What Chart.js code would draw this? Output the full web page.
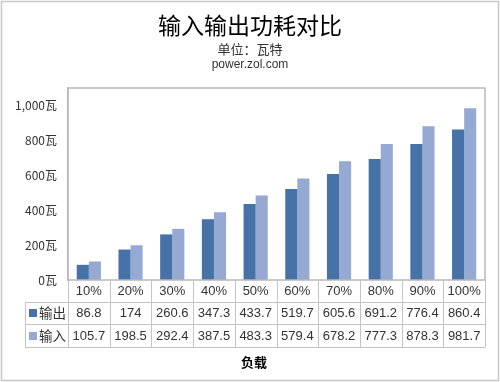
<!DOCTYPE html>
<html>
<head>
<meta charset="utf-8">
<script src="https://cdn.jsdelivr.net/npm/chart.js@4/dist/chart.umd.min.js"></script>
<style>
  html, body { margin: 0; padding: 0; background: #fff; }
  #wrap { width: 500px; height: 382px; }
</style>
</head>
<body>
<div id="wrap"><canvas id="powerChart" width="500" height="382"></canvas></div>
<script>
// data
const loads = ['10%', '20%', '30%', '40%', '50%', '60%', '70%', '80%', '90%', '100%'];
const outputW = [86.8, 174, 260.6, 347.3, 433.7, 519.7, 605.6, 691.2, 776.4, 860.4];
const inputW = [105.7, 198.5, 292.4, 387.5, 483.3, 579.4, 678.2, 777.3, 878.3, 981.7];
const outputLabels = ['86.8', '174', '260.6', '347.3', '433.7', '519.7', '605.6', '691.2', '776.4', '860.4'];
const inputLabels = ['105.7', '198.5', '292.4', '387.5', '483.3', '579.4', '678.2', '777.3', '878.3', '981.7'];

const darkBlue = '#4672a8';
const lightBlue = '#95a9d2';
const lineGray = '#b8b8b8';
const font = '"Noto Sans CJK SC", "Liberation Sans", sans-serif';

// titles, frame and data table underneath the plot
const decor = {
    id: 'decor',
    beforeDraw(chart) {
        const c = chart.ctx;
        c.save();
        c.fillStyle = '#fff';
        c.fillRect(0, 0, chart.width, chart.height);
        c.strokeStyle = '#c8c8c8';
        c.lineWidth = 1.5;
        c.strokeRect(1.5, 1.5, chart.width - 3, chart.height - 3);
        c.restore();
    },
    afterDraw(chart) {
        const c = chart.ctx;
        const area = chart.chartArea;
        const x = chart.scales.x;
        c.save();
        c.textAlign = 'center';
        c.textBaseline = 'middle';
        c.fillStyle = '#000';
        c.font = '23px ' + font;
        c.fillText('输入输出功耗对比', 250, 25);
        c.fillStyle = '#333';
        c.font = '13px ' + font;
        c.fillText('单位：瓦特', 250, 49);
        c.font = '12px "Liberation Sans", sans-serif';
        c.fillText('power.zol.com', 250, 65);

        // plot frame
        c.strokeStyle = lineGray;
        c.lineWidth = 1.5;
        c.strokeRect(area.left, area.top, area.right - area.left, area.bottom - area.top);

        // table
        const rows = [area.bottom, 302, 324, 347];
        const step = (area.right - area.left) / loads.length;
        c.lineWidth = 1;
        c.strokeStyle = '#c4c4c4';
        c.beginPath();
        c.moveTo(25, rows[1] + 0.5); c.lineTo(area.right, rows[1] + 0.5);
        c.moveTo(25, rows[2] + 0.5); c.lineTo(area.right, rows[2] + 0.5);
        c.moveTo(25, rows[3] + 0.5); c.lineTo(area.right, rows[3] + 0.5);
        c.moveTo(25.5, rows[1]); c.lineTo(25.5, rows[3]);
        for (let i = 0; i <= loads.length; i++) {
            const px = Math.round(area.left + i * step) + 0.5;
            c.moveTo(px, rows[0]); c.lineTo(px, rows[3]);
        }
        c.stroke();

        c.fillStyle = '#333';
        c.font = '13px "Liberation Sans", sans-serif';
        for (let i = 0; i < loads.length; i++) {
            const px = x.getPixelForValue(i);
            c.fillText(loads[i], px, 291);
            c.fillText(outputLabels[i], px, 313);
            c.fillText(inputLabels[i], px, 336);
        }
        // legend keys
        c.fillStyle = darkBlue;
        c.fillRect(29, 309, 8, 8);
        c.fillStyle = lightBlue;
        c.fillRect(29, 332, 8, 8);
        c.fillStyle = '#333';
        c.textAlign = 'left';
        c.font = '13.5px ' + font;
        c.fillText('输出', 39, 313);
        c.fillText('输入', 39, 336);

        c.textAlign = 'center';
        c.fillStyle = '#000';
        c.font = 'bold 13px ' + font;
        c.fillText('负载', 254, 362);
        c.restore();
    }
};

new Chart(document.getElementById('powerChart').getContext('2d'), {
    type: 'bar',
    data: {
        labels: loads,
        datasets: [
            { label: '输出', data: outputW, backgroundColor: darkBlue },
            { label: '输入', data: inputW, backgroundColor: lightBlue }
        ]
    },
    options: {
        responsive: false,
        animation: false,
        layout: { padding: { top: 88, right: 15, bottom: 102, left: 0 } },
        plugins: {
            legend: { display: false },
            title: { display: false },
            tooltip: { enabled: false }
        },
        datasets: { bar: { categoryPercentage: 0.58, barPercentage: 1 } },
        scales: {
            x: {
                display: false,
                grid: { display: false }
            },
            y: {
                min: 0,
                max: 1097,
                afterFit(scale) { scale.width = 68; },
                afterBuildTicks(scale) {
                    scale.ticks = [0, 200, 400, 600, 800, 1000].map(v => ({ value: v }));
                },
                border: { display: true, color: lineGray, width: 1.5 },
                grid: { display: false, drawTicks: false },
                ticks: {
                    padding: 11,
                    color: '#333',
                    font: { family: font, size: 12 },
                    callback: v => v.toLocaleString('en-US') + '瓦'
                }
            }
        }
    },
    plugins: [decor]
});
</script>
</body>
</html>
